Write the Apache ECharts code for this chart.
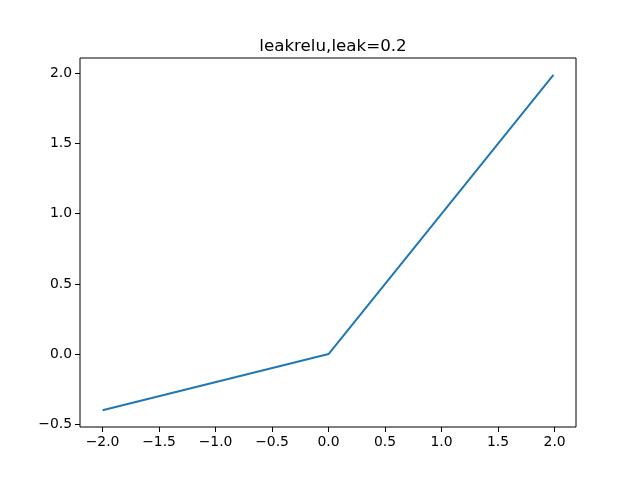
<!DOCTYPE html>
<html>
<head>
<meta charset="utf-8">
<script src="https://cdn.jsdelivr.net/npm/echarts@6/dist/echarts.min.js"></script>
<style>html,body{margin:0;padding:0;background:#fff}#c{width:640px;height:480px}</style>
</head>
<body>
<div id="c"></div>
<script>
var titleText = 'leakrelu,leak=0.2';
var xValues = [-2.0, 0.0, 1.99];
var yValues = [-0.4, 0.0, 1.99];
var xTicks = [-2.0, -1.5, -1.0, -0.5, 0.0, 0.5, 1.0, 1.5, 2.0];
var yTicks = [-0.5, 0.0, 0.5, 1.0, 1.5, 2.0];

function fmt(v){ return Number(v).toFixed(1).replace('-', '\u2212'); }
function pad(a){ var lo=Math.min.apply(null,a), hi=Math.max.apply(null,a), m=(hi-lo)*0.05; return [lo-m, hi+m]; }
var xr = pad(xValues), yr = pad(yValues);
var pts = xValues.map(function(x,i){ return [x, yValues[i]]; });

var chart = echarts.init(document.getElementById('c'), null, {renderer:'canvas'});
var font = 'DejaVu Sans';
chart.setOption({
  animation: false,
  title: { text: titleText, left: 328, top: 33, textAlign: 'center',
    textStyle: { fontFamily: font, fontSize: 16.7, fontWeight: 'normal', color: '#000' } },
  grid: { left: 80, right: 64, top: 58, bottom: 53, show: true, borderColor: '#000', borderWidth: 1, backgroundColor: 'transparent' },
  xAxis: { type: 'value', min: xr[0], max: xr[1], position: 'bottom',
    axisLine: { show: false, onZero: false },
    splitLine: { show: false },
    axisTick: { show: true, length: 5, customValues: xTicks, lineStyle: { color: '#000', width: 1 } },
    axisLabel: { customValues: xTicks, formatter: fmt, margin: 8, fontFamily: font, fontSize: 13.9, color: '#000' } },
  yAxis: { type: 'value', min: yr[0], max: yr[1], position: 'left',
    axisLine: { show: false, onZero: false },
    splitLine: { show: false },
    axisTick: { show: true, length: 5, customValues: yTicks, lineStyle: { color: '#000', width: 1 } },
    axisLabel: { customValues: yTicks, formatter: fmt, margin: 8, fontFamily: font, fontSize: 13.9, color: '#000' } },
  series: [{ type: 'line', data: pts, showSymbol: false, symbol: 'none',
    lineStyle: { color: '#1f77b4', width: 2 } }]
});
</script>
</body>
</html>
